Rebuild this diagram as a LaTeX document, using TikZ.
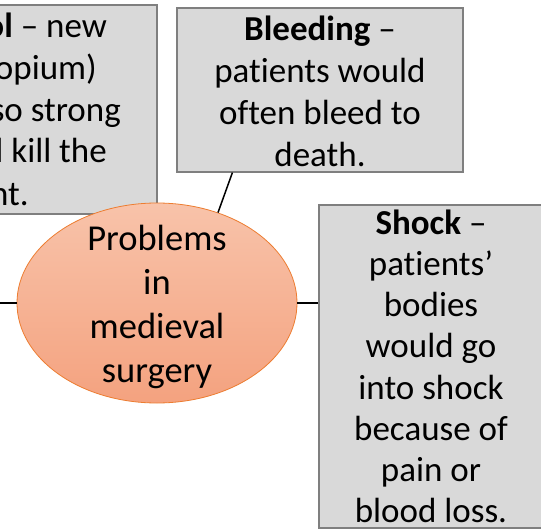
\documentclass[tikz,border=0pt]{standalone}
\usepackage{fontspec}
\setmainfont[Ligatures=NoCommon]{Carlito}
\usetikzlibrary{shapes.geometric}
\definecolor{boxfill}{HTML}{D9D9D9}
\definecolor{boxline}{HTML}{7F7F7F}
\definecolor{elltop}{HTML}{F8C3AA}
\definecolor{ellbot}{HTML}{F4A27F}
\definecolor{ellline}{HTML}{ED7D31}
\tikzset{
  infobox/.style={draw=boxline, fill=boxfill, line width=1.2pt, rectangle, inner sep=0pt},
  boxtext/.style={align=center, anchor=north, inner sep=0pt, font=\fontsize{35}{#1}\selectfont},
  linetext/.style={anchor=base east, inner sep=0pt, font=\fontsize{35}{41.5}\selectfont},
  link/.style={line width=1.5pt, black}
}
\begin{document}
\begin{tikzpicture}[x=1pt, y=-1pt]
\clip (0,0) rectangle (541,532);
\fill[white] (0,0) rectangle (541,532);
% left box (cropped)
\node[infobox, minimum width=286pt, minimum height=209pt] (pain) at (14,109.5) {};
\node[linetext] (p1) at (107,38) {\textbf{ol} – new};
\node[linetext] (p2) at (97,80) {opium)};
\node[linetext] (p3) at (121,121.5) {so strong};
\node[linetext] (p4) at (107,163) {l kill the};
\node[linetext] (p5) at (29,205) {nt.};
% bleeding box
\node[infobox, minimum width=286pt, minimum height=164pt] (bleed) at (320,90) {};
\node[boxtext=42] (bleedt) at (320,40-29.4) {\strut\textbf{Bleeding} –\\patients would\\often bleed to\\death.};
% shock box
\node[infobox, minimum width=224pt, minimum height=323pt] (shock) at (431,366.5) {};
\node[boxtext=41.2] (shockt) at (431,234-28.84) {\strut\textbf{Shock} –\\patients’\\bodies\\would go\\into shock\\because of\\pain or\\blood loss.};
% centre ellipse
\node[ellipse, draw=ellline, line width=0.8pt, top color=elltop, bottom color=ellbot, minimum width=280pt, minimum height=200pt, inner sep=0pt] (ell) at (157,303) {};
\node[boxtext=44, font=\fontsize{36.5}{44}\selectfont] (ellt) at (157,250-30.8) {\strut Problems\\in\\medieval\\surgery};
% connectors
\coordinate (lend) at (-5,303);
\draw[link] (lend) -- (ell.west);
\draw[link] (ell.east) -- (ell.east -| shock.west);
\draw[link] (bleed.south west) ++(56,0) -- (ell.56);
\end{tikzpicture}
\end{document}
